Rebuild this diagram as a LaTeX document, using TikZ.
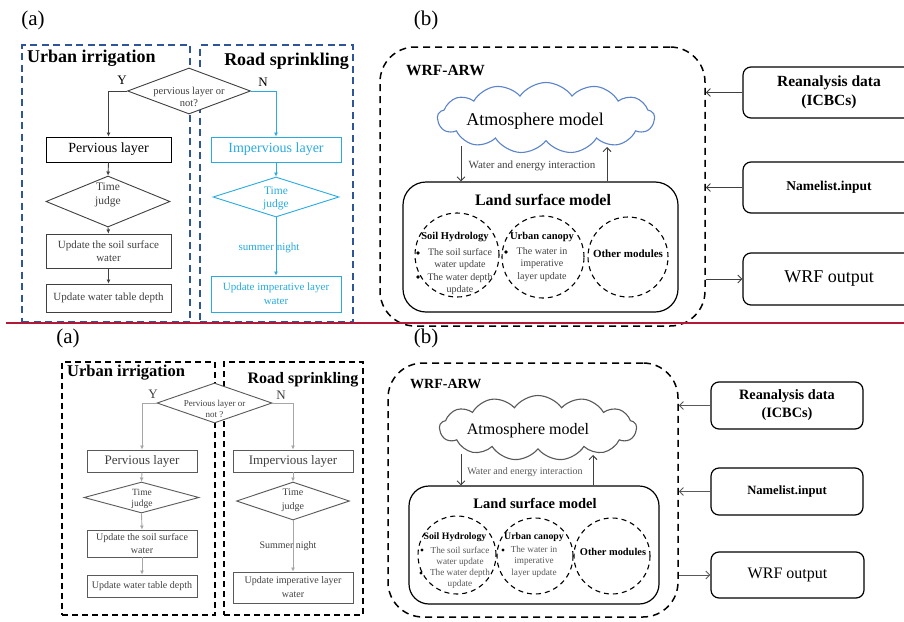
\documentclass[tikz,border=0pt]{standalone}
\usepackage{fontspec}
\setmainfont{Liberation Serif}
\usetikzlibrary{shapes.geometric,shapes.symbols,arrows.meta}
\definecolor{dblue}{HTML}{2E5597}
\definecolor{lblue}{HTML}{29ABE2}
\definecolor{cblue}{HTML}{5B83C9}
\definecolor{redl}{HTML}{B21838}
\definecolor{dgrey}{HTML}{404040}
\definecolor{mgrey}{HTML}{595959}
\definecolor{lgrey}{HTML}{A6A6A6}
\newcommand\fsz[2]{\fontsize{#1}{#2}\selectfont}
\tikzset{
  txt/.style={inner sep=0, align=center},
  tdash/.style={draw=dblue, line width=1.5, dash pattern=on 7 off 4.5, minimum height=277},
  bdash/.style={draw=black, line width=2, dash pattern=on 6 off 4, minimum height=253},
  fbox/.style={draw, line width=0.9, inner sep=1, align=center},
  decis/.style={diamond, draw, line width=0.9, fill=white, inner sep=0},
  tconn/.style={draw=dgrey, line width=0.9, -{Latex[length=4pt,width=4pt]}},
  tconnb/.style={draw=lblue, line width=0.9, -{Latex[length=4pt,width=4pt]}},
  bconn/.style={draw=lgrey, line width=0.9, -{Latex[length=4pt,width=4pt]}},
  barrow/.style={draw=dgrey, line width=0.9, -{Straight Barb[length=4pt,width=8pt]}},
  wrfbox/.style={draw, line width=1.5, dash pattern=on 7 off 5, rounded corners=35, inner sep=0},
  lsmbox/.style={draw, line width=1.2, inner sep=0},
  modc/.style={circle, draw, line width=1.1, dash pattern=on 5 off 4, inner sep=0},
  inbox/.style={draw, line width=1.2, rounded corners=8, inner sep=0, align=center},
  cloudy/.style={cloud, cloud puffs=13, cloud puff arc=110, aspect=3, draw, line width=1.1, inner sep=0},
}
\begin{document}
\begin{tikzpicture}[x=1pt,y=-1pt]
\useasboundingbox (0,0) rectangle (904,621);
\clip (0,0) rectangle (904,621);
\fill[white] (0,0) rectangle (904,621);

% ================= TOP (a) =================
\node[txt, font=\fsz{21}{24}] (ta) at (33,20) {(a)};
\node[tdash, minimum width=168] (tbL) at (106,183.5) {};
\node[tdash, minimum width=153] (tbR) at (276.5,183.5) {};
\node[txt, anchor=west, font=\fsz{18}{21}\bfseries] (tui) at (27,58) {Urban irrigation};
\node[txt, anchor=east, font=\fsz{18}{21}\bfseries] (trs) at (349,61) {Road sprinkling};

\node[decis, draw=dgrey, minimum width=123, minimum height=46] (d1) at (189,91) {};
\node[txt, text=dgrey, font=\fsz{10.5}{12}] (d1t) at (189,97) {pervious layer or\\not?};
\node[txt, font=\fsz{13}{15}] (ty) at (122,80) {Y};
\node[txt, font=\fsz{13}{15}] (tn) at (263,82) {N};

\node[fbox, minimum width=125, minimum height=25, font=\fsz{14}{16}] (p1) at (108.5,149.5) {Pervious layer};
\node[decis, draw=dgrey, minimum width=124, minimum height=51] (tj1) at (108,201.5) {};
\node[txt, text=dgrey, font=\fsz{11.5}{14}] (tj1t) at (108,195) {Time\\judge};
\node[fbox, draw=dgrey, text=dgrey, minimum width=125, minimum height=34, font=\fsz{11}{13}] (u1) at (108.5,251) {Update the soil surface\\water};
\node[fbox, draw=dgrey, text=dgrey, minimum width=125, minimum height=28, font=\fsz{11}{13}] (u2) at (108.5,298) {Update water table depth};

\node[fbox, draw=lblue, text=lblue, minimum width=130, minimum height=25, font=\fsz{14}{16}] (ip1) at (276,149.5) {Impervious layer};
\node[decis, draw=lblue, minimum width=126, minimum height=40] (tj2) at (276,197) {};
\node[txt, text=lblue, font=\fsz{11.5}{13}] (tj2t) at (276,198.5) {Time\\judge};
\node[fbox, draw=lblue, text=lblue, minimum width=130, minimum height=36, font=\fsz{11}{14}] (ui1) at (276,294) {Update imperative layer\\water};

\draw[tconn] (d1.west) -| (p1.north);
\draw[tconn] (p1.south) -- (tj1.north);
\draw[tconn] (tj1.south) -- (u1.north);
\draw[tconn] (u1.south) -- (u2.north);
\draw[tconnb] (d1.east) -| (ip1.north);
\draw[tconnb] (ip1.south) -- (tj2.north);
\draw[tconnb] (tj2.south) -- (ui1.north);
\node[txt, text=lblue, font=\fsz{11}{13}] (tsn) at (269,248) {summer night};

% ================= TOP (b) =================
\node[txt, font=\fsz{21}{24}] (tb) at (426,20) {(b)};
\node[wrfbox, minimum width=325, minimum height=279] (wrf1) at (542.5,186.5) {};
\node[txt, anchor=west, font=\fsz{15.5}{18}\bfseries] (twa) at (406,70) {WRF-ARW};
\node[cloudy, draw=cblue, minimum width=217, minimum height=71] (atm1) at (546,118) {};
\node[txt, font=\fsz{18}{21}] (atm1t) at (535,121) {Atmosphere model};
\node[lsmbox, rounded corners=23, minimum width=275, minimum height=130] (lsm1) at (540.5,247) {};
\node[txt, font=\fsz{16}{19}\bfseries] (lsm1t) at (543,200) {Land surface model};
\node[modc, minimum size=84] (c1) at (457,255) {};
\node[modc, minimum size=82] (c2) at (543,257) {};
\node[modc, minimum size=80] (c3) at (628,257) {};
\node[txt, font=\fsz{10.5}{12}\bfseries] (c1h) at (455,237) {Soil Hydrology};
\node[txt, text=dgrey, font=\fsz{10}{12.3}] (c1b) at (460,271.5) {The soil surface\\water update\\The water depth\\update};
\node[txt, font=\fsz{10.5}{12}\bfseries] (c2h) at (542,237) {Urban canopy};
\node[txt, text=dgrey, font=\fsz{10}{12.5}] (c2b) at (542,264.5) {The water in\\imperative\\layer update};
\node[txt, font=\fsz{11}{13}\bfseries] (c3h) at (628,254) {Other modules};
\fill (418,253) circle (1.8);
\fill (418,277) circle (1.8);
\fill (506,252) circle (1.8);
\node[txt, text=dgrey, font=\fsz{11}{13}] (twe) at (532,166) {Water and energy interaction};
\coordinate (dn1) at (461,146);
\coordinate (up1) at (607,147);
\draw[barrow] (dn1) -- (dn1 |- lsm1.north);
\draw[barrow] (up1 |- lsm1.north) -- (up1);

\node[inbox, minimum width=172, minimum height=51, font=\fsz{15.5}{19}\bfseries] (rea1) at (829,92.5) {Reanalysis data\\(ICBCs)};
\node[inbox, minimum width=172, minimum height=51, font=\fsz{13.5}{16}\bfseries] (nml1) at (829,187.5) {Namelist.input};
\node[inbox, minimum width=172, minimum height=52, font=\fsz{18}{21}] (out1) at (829,279) {WRF output};
\draw[barrow] (rea1.west) -- (rea1.west -| wrf1.east);
\draw[barrow] (nml1.west) -- (nml1.west -| wrf1.east);
\draw[barrow] (out1.west -| wrf1.east) -- (out1.west);

% red separator
\draw[redl, line width=2] (6,323) -- (904,323);

% ================= BOTTOM (a) =================
\node[txt, font=\fsz{21}{24}] (ba) at (68,338) {(a)};
\node[bdash, minimum width=153] (bbL) at (138.5,488.5) {};
\node[bdash, minimum width=139] (bbR) at (293.5,488.5) {};
\node[txt, anchor=west, font=\fsz{16.5}{19}\bfseries] (bui) at (67,373) {Urban irrigation};
\node[txt, anchor=east, font=\fsz{16}{19}\bfseries] (brs) at (358.5,380) {Road sprinkling};

\node[decis, draw=mgrey, minimum width=115, minimum height=40] (d2) at (214.5,403) {};
\node[txt, text=dgrey, font=\fsz{9}{11}] (d2t) at (214.5,408.5) {Pervious layer or\\not ?};
\node[txt, text=dgrey, font=\fsz{13}{15}] (by) at (153,394) {Y};
\node[txt, text=dgrey, font=\fsz{13}{15}] (bn) at (281,395) {N};

\node[fbox, draw=mgrey, text=dgrey, minimum width=110, minimum height=22, font=\fsz{13}{15}] (p2) at (142,461) {Pervious layer};
\node[decis, draw=mgrey, minimum width=115, minimum height=31] (tj3) at (141.5,497.5) {};
\node[txt, text=dgrey, font=\fsz{9.5}{11}] (tj3t) at (142,498.5) {Time\\judge};
\node[fbox, draw=mgrey, text=dgrey, minimum width=110, minimum height=27, font=\fsz{10}{13}] (u3) at (142,543.5) {Update the soil surface\\water};
\node[fbox, draw=mgrey, text=dgrey, minimum width=110, minimum height=22, font=\fsz{10}{12}] (u4) at (142,586) {Update water table depth};

\node[fbox, draw=mgrey, text=dgrey, minimum width=120, minimum height=22, font=\fsz{13}{15}] (ip2) at (293,461) {Impervious layer};
\node[decis, draw=mgrey, minimum width=113, minimum height=38] (tj4) at (293,501) {};
\node[txt, text=dgrey, font=\fsz{10}{14}] (tj4t) at (293,500) {Time\\judge};
\node[fbox, draw=mgrey, text=dgrey, minimum width=120, minimum height=31, font=\fsz{10}{14}] (ui2) at (293,587.5) {Update imperative layer\\water};

\draw[bconn] (d2.west) -| (p2.north);
\draw[bconn] (p2.south) -- (tj3.north);
\draw[bconn] (tj3.south) -- (u3.north);
\draw[bconn] (u3.south) -- (u4.north);
\draw[bconn] (d2.east) -| (ip2.north);
\draw[bconn] (ip2.south) -- (tj4.north);
\draw[bconn] (tj4.south) -- (ui2.north);
\node[txt, text=dgrey, font=\fsz{10}{12}] (bsn) at (288,546) {Summer night};

% ================= BOTTOM (b) =================
\node[txt, font=\fsz{21}{24}] (bb) at (426,338) {(b)};
\node[wrfbox, minimum width=290, minimum height=254] (wrf2) at (533,490) {};
\node[txt, anchor=west, font=\fsz{14}{17}\bfseries] (bwa) at (410,384) {WRF-ARW};
\node[cloudy, draw=mgrey, minimum width=197, minimum height=65] (atm2) at (538,428) {};
\node[txt, font=\fsz{16}{19}] (atm2t) at (528,431) {Atmosphere model};
\node[lsmbox, rounded corners=20, minimum width=250, minimum height=118] (lsm2) at (534,545) {};
\node[txt, font=\fsz{14.5}{17}\bfseries] (lsm2t) at (535,503) {Land surface model};
\node[modc, minimum size=78] (c4) at (457,555) {};
\node[modc, minimum size=76] (c5) at (535,556) {};
\node[modc, minimum size=76] (c6) at (612,556) {};
\node[txt, font=\fsz{9.8}{11}\bfseries] (c4h) at (455,537) {Soil Hydrology};
\node[txt, text=mgrey, font=\fsz{9.2}{11}] (c4b) at (460,567.5) {The soil surface\\water update\\The water depth\\update};
\node[txt, font=\fsz{9.8}{11}\bfseries] (c5h) at (534,537) {Urban canopy};
\node[txt, text=mgrey, font=\fsz{9.2}{11.5}] (c5b) at (534,561.5) {The water in\\imperative\\layer update};
\node[txt, font=\fsz{10.4}{12}\bfseries] (c6h) at (613,552) {Other modules};
\fill (422,550) circle (1.7);
\fill (421,573) circle (1.7);
\fill (503,550) circle (1.7);
\node[txt, text=mgrey, font=\fsz{10}{12}] (bwe) at (525,472) {Water and energy interaction};
\coordinate (dn2) at (461,454);
\coordinate (up2) at (593,455);
\draw[barrow] (dn2) -- (dn2 |- lsm2.north);
\draw[barrow] (up2 |- lsm2.north) -- (up2);

\node[inbox, minimum width=152, minimum height=47, font=\fsz{14.3}{18}\bfseries] (rea2) at (787,405.5) {Reanalysis data\\(ICBCs)};
\node[inbox, minimum width=152, minimum height=47, font=\fsz{12.6}{15}\bfseries] (nml2) at (787,491.5) {Namelist.input};
\node[inbox, minimum width=153, minimum height=46, font=\fsz{16}{19}] (out2) at (787.5,575) {WRF output};
\draw[barrow, draw=mgrey] (rea2.west) -- (rea2.west -| wrf2.east);
\draw[barrow, draw=mgrey] (nml2.west) -- (nml2.west -| wrf2.east);
\draw[barrow, draw=mgrey] (out2.west -| wrf2.east) -- (out2.west);
\end{tikzpicture}
\end{document}
